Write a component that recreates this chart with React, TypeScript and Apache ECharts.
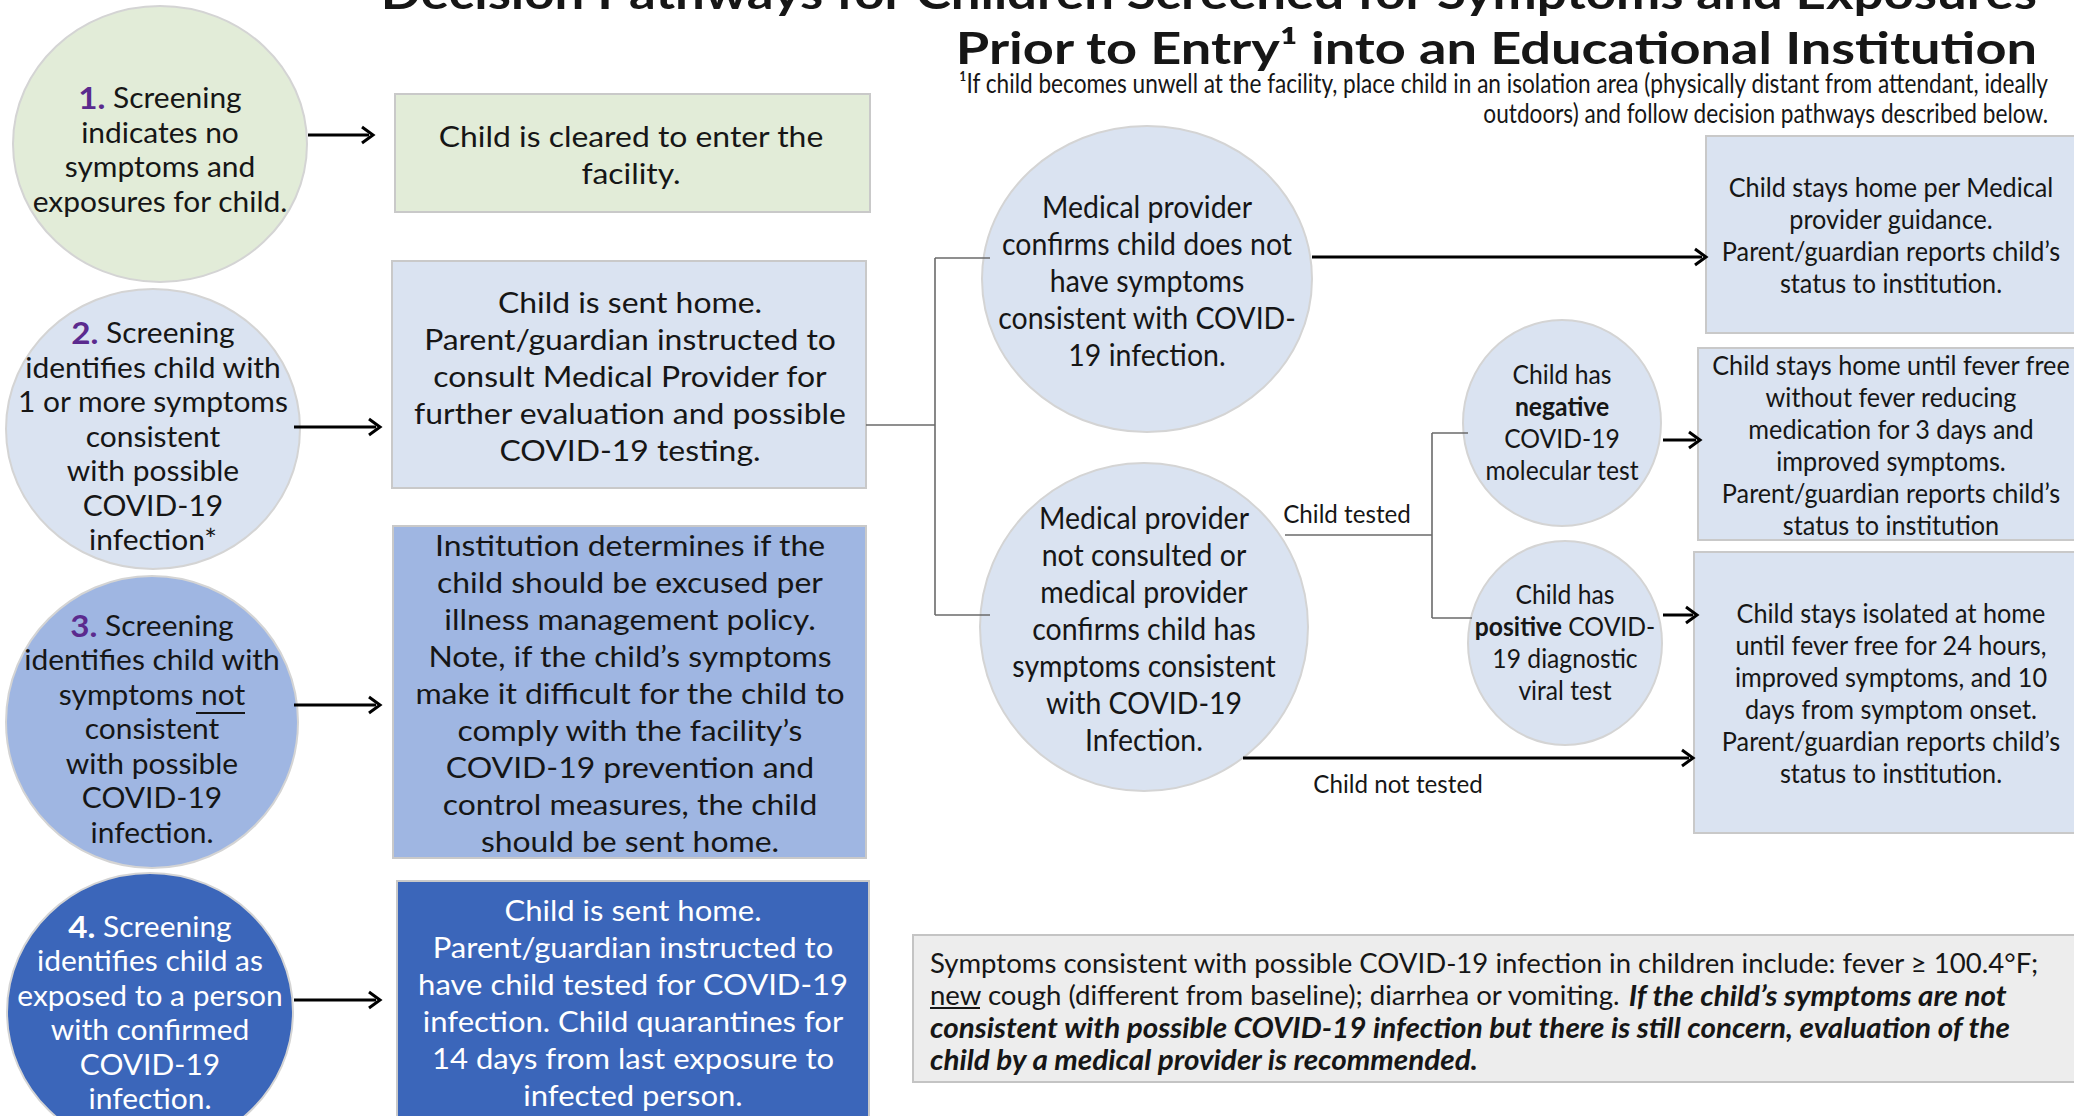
import React, { useEffect, useRef } from "react";
import * as echarts from "echarts";

// ---------- Texts (data) ----------
const titleLines = [
  "Decision Pathways for Children Screened for Symptoms and Exposures",
  "Prior to Entry¹ into an Educational Institution",
];
const footnoteLines = [
  "¹If child becomes unwell at the facility, place child in an isolation area (physically distant from attendant, ideally",
  "outdoors) and follow decision pathways described below.",
];
const circle1Lines = ["{n|1.} Screening", "indicates no", "symptoms and", "exposures for child."];
const circle2Lines = ["{n|2.} Screening", "identifies child with", "1 or more symptoms", "consistent", "with possible", "COVID-19", "infection*"];
const circle3Lines = ["{n|3.} Screening", "identifies child with", "symptoms not", "consistent", "with possible", "COVID-19", "infection."];
const circle4Lines = ["{w|4.} Screening", "identifies child as", "exposed to a person", "with confirmed", "COVID-19", "infection."];
const box1Lines = ["Child is cleared to enter the", "facility."];
const box2Lines = ["Child is sent home.", "Parent/guardian instructed to", "consult Medical Provider for", "further evaluation and possible", "COVID-19 testing."];
const box3Lines = [
  "Institution determines if the", "child should be excused per", "illness management policy.",
  "Note, if the child’s symptoms", "make it difficult for the child to", "comply with the facility’s",
  "COVID-19 prevention and", "control measures, the child", "should be sent home.",
];
const box4Lines = [
  "Child is sent home.", "Parent/guardian instructed to", "have child tested for COVID-19",
  "infection. Child quarantines for", "14 days from last exposure to", "infected person.",
];
const circleALines = ["Medical provider", "confirms child does not", "have symptoms", "consistent with COVID-", "19 infection."];
const circleBLines = ["Medical provider", "not consulted or", "medical provider", "confirms child has", "symptoms consistent", "with COVID-19", "Infection."];
const negLines = ["Child has", "{b|negative}", "COVID-19", "molecular test"];
const posLines = ["Child has", "{b|positive} COVID-", "19 diagnostic", "viral test"];
const r1Lines = ["Child stays home per Medical", "provider guidance.", "Parent/guardian reports child’s", "status to institution."];
const r2Lines = [
  "Child stays home until fever free", "without fever reducing", "medication for 3 days and",
  "improved symptoms.", "Parent/guardian reports child’s", "status to institution",
];
const r3Lines = [
  "Child stays isolated at home", "until fever free for 24 hours,", "improved symptoms, and 10",
  "days from symptom onset.", "Parent/guardian reports child’s", "status to institution.",
];
const edgeLabels = ["Child tested", "Child not tested"];
const symptomLines = [
  "Symptoms consistent with possible COVID-19 infection in children include: fever ≥ 100.4°F;",
  "new cough (different from baseline); diarrhea or vomiting. {bi|If the child’s symptoms are not}",
  "{bi|consistent with possible COVID-19 infection but there is still concern, evaluation of the}",
  "{bi|child by a medical provider is recommended.}",
];

// ---------- Styling ----------
const FONT = "Lato, 'Open Sans', sans-serif";
const INK = "#161616";
const PURPLE = "#5b2a8e";
const GREEN = "#e2ecd8";
const PALE = "#dae3f1";
const MID = "#9fb6e2";
const DARK = "#3b66ba";
const EDGE = "#c9c9c9";

function block(lines: string[], x: number, y: number, o: any = {}) {
  const fs = o.fontSize ?? 26;
  const lh = o.lineHeight ?? 35;
  const fill = o.fill ?? INK;
  const rich: any = {
    n: { fontSize: fs + 3, fontWeight: "bold", fill: PURPLE, fontFamily: FONT, lineHeight: lh },
    w: { fontSize: fs + 3, fontWeight: "bold", fill: "#ffffff", fontFamily: FONT, lineHeight: lh },
    b: { fontSize: fs, fontWeight: "bold", fill, fontFamily: FONT, lineHeight: lh },
    bi: { fontSize: o.biSize ?? fs, fontWeight: "bold", fontStyle: "italic", fill, fontFamily: FONT, lineHeight: lh },
  };
  return {
    type: "text",
    x,
    y,
    scaleX: o.scaleX ?? 1,
    z: 10,
    style: {
      text: lines.join("\n"),
      fontSize: fs,
      fontFamily: FONT,
      fontWeight: o.fontWeight ?? "normal",
      fill,
      align: o.align ?? "center",
      verticalAlign: o.verticalAlign ?? "middle",
      lineHeight: lh,
      rich,
    },
  };
}

function ellipse(cx: number, cy: number, rx: number, ry: number, fill: string) {
  return { type: "ellipse", shape: { cx, cy, rx, ry }, style: { fill, stroke: "#d4d4d4", lineWidth: 2 } };
}
function box(x: number, y: number, w: number, h: number, fill: string) {
  return { type: "rect", shape: { x, y, width: w, height: h }, style: { fill, stroke: EDGE, lineWidth: 2 } };
}
function seg(x1: number, y1: number, x2: number, y2: number, color = "#6a6a6a", w = 1.6) {
  return { type: "line", z: 11, shape: { x1, y1, x2, y2 }, style: { stroke: color, lineWidth: w } };
}
function arrow(x1: number, y: number, x2: number) {
  return [
    { type: "line", shape: { x1, y1: y, x2: x2 - 4, y2: y }, style: { stroke: "#000", lineWidth: 3 } },
    { type: "polyline", shape: { points: [[x2 - 11, y - 8], [x2, y], [x2 - 11, y + 8]] }, style: { stroke: "#000", lineWidth: 3, fill: "none" } },
  ];
}

export default function App() {
  const ref = useRef<HTMLDivElement>(null);
  useEffect(() => {
    document.body.style.margin = "0";
    const chart = echarts.init(ref.current!, null, { renderer: "svg" });
    const g: any[] = [];

    // title
    g.push(block([titleLines[0]], 2037, -8, { fontSize: 44, fontWeight: "bold", align: "right", scaleX: 1.2 }));
    g.push(block([titleLines[1]], 2037, 47, { fontSize: 44, fontWeight: "bold", align: "right", scaleX: 1.23 }));
    g.push(block(footnoteLines, 2048, 98, { fontSize: 26, lineHeight: 30, align: "right", scaleX: 0.87 }));

    // left circles
    g.push(ellipse(160, 144, 147, 138, GREEN));
    g.push(ellipse(153, 429, 147, 140, PALE));
    g.push(ellipse(152, 722, 146, 146, MID));
    g.push(ellipse(150, 1012, 143, 139, DARK));
    const cOpt = { fontSize: 28, lineHeight: 34.5, scaleX: 1.07 };
    g.push(block(circle1Lines, 160, 149, cOpt));
    g.push(block(circle2Lines, 153, 435.5, cOpt));
    g.push(block(circle3Lines, 152, 728, cOpt));
    g.push(block(circle4Lines, 150, 1012, { ...cOpt, fill: "#ffffff" }));
    g.push(seg(196, 713, 245, 713, INK, 2));

    // left boxes
    g.push(box(395, 94, 475, 118, GREEN));
    g.push(box(392, 261, 474, 227, PALE));
    g.push(box(393, 526, 473, 332, MID));
    g.push(box(397, 881, 472, 250, DARK));
    const bOpt = { fontSize: 29, lineHeight: 37, scaleX: 1.1 };
    g.push(block(box1Lines, 631, 154, bOpt));
    g.push(block(box2Lines, 630, 376, bOpt));
    g.push(block(box3Lines, 630, 693, bOpt));
    g.push(block(box4Lines, 633, 1001.5, { ...bOpt, scaleX: 1.07, fill: "#ffffff" }));

    g.push(...arrow(308, 135, 373));
    g.push(...arrow(294, 427, 380));
    g.push(...arrow(294, 705, 380));
    g.push(...arrow(294, 1000, 380));

    // connectors
    g.push(seg(866, 425, 935, 425));
    g.push(seg(935, 258, 935, 615));
    g.push(seg(935, 258, 990, 258));
    g.push(seg(935, 615, 990, 615));
    g.push(seg(1285, 535, 1432, 535));
    g.push(seg(1432, 433, 1432, 618));
    g.push(seg(1432, 433, 1468, 433));
    g.push(seg(1432, 618, 1472, 618));

    // right circles
    g.push(ellipse(1147, 279, 165, 153, PALE));
    g.push(ellipse(1144, 627, 164, 164, PALE));
    g.push(ellipse(1562, 423, 99, 103, PALE));
    g.push(ellipse(1565, 643, 97, 102, PALE));
    const rcOpt = { fontSize: 30, lineHeight: 37, scaleX: 0.95 };
    g.push(block(circleALines, 1147, 280, rcOpt));
    g.push(block(circleBLines, 1144, 628, rcOpt));
    const scOpt = { fontSize: 26, lineHeight: 32, scaleX: 0.95 };
    g.push(block(negLines, 1562, 422, scOpt));
    g.push(block(posLines, 1565, 642, scOpt));

    // right boxes
    g.push(box(1706, 136, 380, 197, PALE));
    g.push(box(1698, 348, 388, 192, PALE));
    g.push(box(1694, 552, 392, 281, PALE));
    const rbOpt = { fontSize: 27, lineHeight: 32, scaleX: 0.935 };
    g.push(block(r1Lines, 1891, 235, rbOpt));
    g.push(block(r2Lines, 1891, 445, rbOpt));
    g.push(block(r3Lines, 1891, 693, rbOpt));

    g.push(...arrow(1312, 257, 1706));
    g.push(...arrow(1663, 440, 1700));
    g.push(...arrow(1663, 615, 1697));
    g.push(...arrow(1243, 758, 1693));

    g.push(block([edgeLabels[0]], 1347, 513, { fontSize: 26, scaleX: 0.93 }));
    g.push(block([edgeLabels[1]], 1398, 783, { fontSize: 26, scaleX: 0.93 }));

    // symptoms box
    g.push({ type: "rect", shape: { x: 913, y: 935, width: 1170, height: 147 }, style: { fill: "#ededed", stroke: "#c4c4c4", lineWidth: 2 } });
    g.push(block(symptomLines, 930, 1011, { fontSize: 26, biSize: 28, lineHeight: 32, align: "left", scaleX: 1.06 }));
    g.push(seg(930, 1008, 980, 1008, INK, 2));

    chart.setOption({ animation: false, graphic: { elements: g } });
    return () => chart.dispose();
  }, []);
  return <div ref={ref} style={{ position: "fixed", left: 0, top: 0, width: 2074, height: 1116, background: "#fff" }} />;
}
